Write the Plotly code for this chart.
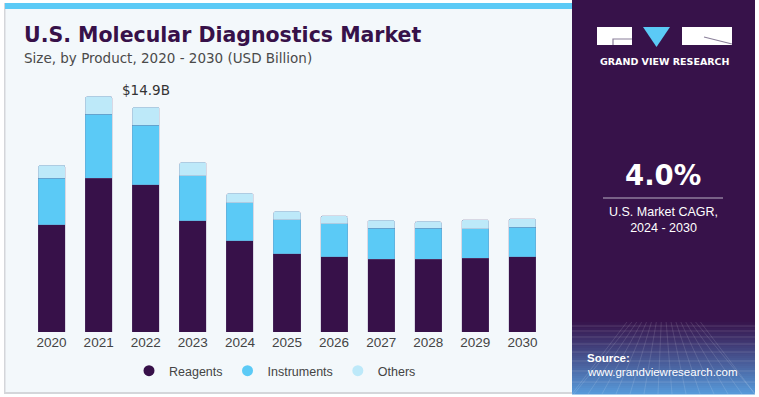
import plotly.graph_objects as go

years = ["2020", "2021", "2022", "2023", "2024", "2025", "2026", "2027", "2028", "2029", "2030"]
reagents = [7.11, 10.18, 9.75, 7.37, 6.03, 5.20, 4.99, 4.81, 4.81, 4.88, 4.99]
instruments = [3.09, 4.24, 3.93, 2.98, 2.52, 2.22, 2.17, 2.05, 2.05, 1.96, 1.95]
others = [0.86, 1.19, 1.22, 0.89, 0.64, 0.58, 0.53, 0.55, 0.46, 0.60, 0.57]
series_names = ["Reagents", "Instruments", "Others"]
series_colors = ["#371149", "#5bcaf6", "#bde9f9"]
highlight_year = "2022"
highlight_label = "$14.9B"

W, H = 759, 397
PL, PR, PT, PB = 28, 546, 90, 332


def px(x):
    return x / W


def py(y):
    return 1 - y / H


fig = go.Figure()
for name, vals, col in zip(series_names, [reagents, instruments, others], series_colors):
    fig.add_trace(go.Bar(x=years, y=vals, name=name, marker=dict(color=col, line=dict(width=0.6, color="rgba(120,100,140,0.35)")),
                         showlegend=False, hoverinfo="x+y+name"))
for name, col in zip(series_names, series_colors):
    fig.add_trace(go.Scatter(x=[None], y=[None], mode="markers", name=name,
                             marker=dict(symbol="circle", size=11, color=col), showlegend=True))

shapes = []
# left panel
shapes.append(dict(type="rect", xref="paper", yref="paper", x0=px(4), x1=px(574), y0=py(394), y1=py(3),
                   fillcolor="#d4d6da", line=dict(width=0), layer="below"))
shapes.append(dict(type="rect", xref="paper", yref="paper", x0=px(5.5), x1=px(574), y0=py(392), y1=py(3),
                   fillcolor="#f3f8fb", line=dict(width=0), layer="below"))
shapes.append(dict(type="rect", xref="paper", yref="paper", x0=px(5), x1=px(574), y0=py(9), y1=py(3),
                   fillcolor="#5bcaf6", line=dict(width=0), layer="below"))
# right panel
shapes.append(dict(type="rect", xref="paper", yref="paper", x0=px(572), x1=px(755), y0=py(394), y1=py(0),
                   fillcolor="#37124a", line=dict(width=0), layer="below"))
# gradient at bottom of right panel
c0 = (0x37, 0x12, 0x4a)
c1 = (0x58, 0x9c, 0xdc)
y_start, y_end = 320, 394
n = 37
for i in range(n):
    t = (i + 0.5) / n
    t2 = t ** 1.1
    col = tuple(int(c0[k] + (c1[k] - c0[k]) * t2) for k in range(3))
    ya = y_start + (y_end - y_start) * i / n
    yb = y_start + (y_end - y_start) * (i + 1) / n + 0.5
    shapes.append(dict(type="rect", xref="paper", yref="paper", x0=px(572), x1=px(755), y0=py(yb), y1=py(ya),
                       fillcolor="rgb(%d,%d,%d)" % col, line=dict(width=0), layer="below"))
# mesh lines
for hy in [326, 331, 337, 344, 352, 361, 371, 382]:
    shapes.append(dict(type="line", xref="paper", yref="paper", x0=px(572), x1=px(755), y0=py(hy), y1=py(hy),
                       line=dict(color="rgba(255,255,255,0.14)", width=1), layer="below"))
for vx in range(560, 780, 14):
    shapes.append(dict(type="line", xref="paper", yref="paper", x0=px(max(572, min(755, 663 + (vx - 663) * 0.35))), x1=px(max(572, min(755, vx))),
                       y0=py(322), y1=py(394), line=dict(color="rgba(255,255,255,0.12)", width=1), layer="below"))
# logo
shapes.append(dict(type="rect", xref="paper", yref="paper", x0=px(597), x1=px(632), y0=py(45), y1=py(27),
                   fillcolor="white", line=dict(width=0)))
shapes.append(dict(type="path", xref="paper", yref="paper",
                   path="M %f %f L %f %f L %f %f" % (px(613), py(45), px(613), py(39), px(632), py(39)),
                   line=dict(color="#8a7f99", width=1.2)))
shapes.append(dict(type="path", xref="paper", yref="paper",
                   path="M %f %f L %f %f L %f %f Z" % (px(643), py(27), px(670), py(27), px(656.5), py(47)),
                   fillcolor="#5bcaf6", line=dict(width=0)))
shapes.append(dict(type="rect", xref="paper", yref="paper", x0=px(682), x1=px(732), y0=py(45), y1=py(27),
                   fillcolor="white", line=dict(width=0)))
shapes.append(dict(type="line", xref="paper", yref="paper", x0=px(704), x1=px(732), y0=py(37), y1=py(44),
                   line=dict(color="#8a7f99", width=1.2)))
# CAGR divider
shapes.append(dict(type="line", xref="paper", yref="paper", x0=px(603), x1=px(723), y0=py(198), y1=py(198),
                   line=dict(color="#b9b0c4", width=1.2)))

FONT = "Liberation Sans"
WIDE = "DejaVu Sans"
ann = []
ann.append(dict(text="<b>U.S. Molecular Diagnostics Market</b>", x=px(22), y=py(35), xref="paper", yref="paper",
                xanchor="left", yanchor="middle", showarrow=False, font=dict(family=WIDE, size=20.5, color="#371149")))
ann.append(dict(text="Size, by Product, 2020 - 2030 (USD Billion)", x=px(22), y=py(58), xref="paper", yref="paper",
                xanchor="left", yanchor="middle", showarrow=False, font=dict(family=WIDE, size=13.5, color="#4a4a4a")))
hi = years.index(highlight_year)
ann.append(dict(text=highlight_label, x=hi, y=reagents[hi] + instruments[hi] + others[hi], xref="x", yref="y",
                yanchor="bottom", yshift=7, showarrow=False, font=dict(family=WIDE, size=13.5, color="#333333")))
ann.append(dict(text="<b>GRAND VIEW RESEARCH</b>", x=px(664.5), y=py(61), xref="paper", yref="paper",
                xanchor="center", yanchor="middle", showarrow=False, font=dict(family=WIDE, size=9.5, color="white")))
ann.append(dict(text="<b>4.0%</b>", x=px(663), y=py(175), xref="paper", yref="paper",
                xanchor="center", yanchor="middle", showarrow=False, font=dict(family=WIDE, size=27.5, color="white")))
ann.append(dict(text="U.S. Market CAGR,<br>2024 - 2030", x=px(663), y=py(220), xref="paper", yref="paper",
                xanchor="center", yanchor="middle", showarrow=False, align="center",
                font=dict(family=FONT, size=12.5, color="white")))
ann.append(dict(text="<b>Source:</b>", x=px(585), y=py(358), xref="paper", yref="paper",
                xanchor="left", yanchor="middle", showarrow=False, font=dict(family=FONT, size=11.5, color="white")))
ann.append(dict(text="www.grandviewresearch.com", x=px(585), y=py(372), xref="paper", yref="paper",
                xanchor="left", yanchor="middle", showarrow=False, font=dict(family=FONT, size=11.5, color="white")))

fig.update_layout(
    width=W, height=H, margin=dict(l=0, r=0, t=0, b=0, autoexpand=False),
    barmode="stack", bargap=0.425, barcornerradius=2,
    paper_bgcolor="white", plot_bgcolor="rgba(0,0,0,0)",
    font=dict(family=FONT, size=13, color="#444444"),
    xaxis=dict(type="category", categoryorder="array", categoryarray=years, range=[-0.5, len(years) - 0.5],
               domain=[px(PL), px(PR)], showgrid=False, showline=False, zeroline=False, ticks="",
               tickfont=dict(size=13.5, color="#444444")),
    yaxis=dict(range=[0, 16.03], domain=[py(PB), py(PT)], visible=False),
    legend=dict(orientation="h", x=px(275), xanchor="center", y=py(371), yanchor="middle", traceorder="normal",
                font=dict(size=12.5, color="#444444"), bgcolor="rgba(0,0,0,0)", itemsizing="trace"),
    shapes=shapes, annotations=ann, showlegend=True,
)
fig.write_html("out.html", config={"displayModeBar": False}, post_script="document.body.style.margin='0';")
